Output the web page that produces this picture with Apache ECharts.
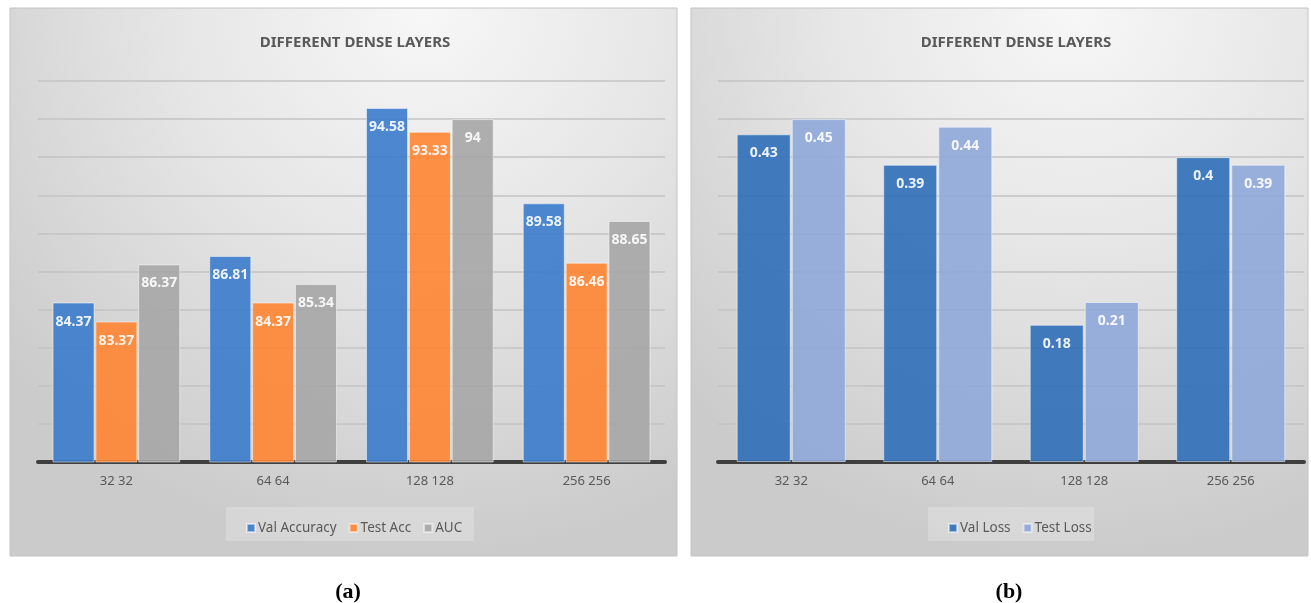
<!DOCTYPE html>
<html>
<head>
<meta charset="utf-8">
<script src="https://cdn.jsdelivr.net/npm/echarts@6/dist/echarts.min.js"></script>
<style>
  html, body { margin: 0; padding: 0; background: #ffffff; }
  #main { width: 1311px; height: 603px; }
</style>
</head>
<body>
<div id="main"></div>
<script>
// Categories shared by both panels
const categories = ['32 32', '64 64', '128 128', '256 256'];

// Panel (a): accuracy metrics
const valAccuracy = [84.37, 86.81, 94.58, 89.58];
const testAcc = [83.37, 84.37, 93.33, 86.46];
const auc = [86.37, 85.34, 94, 88.65];

// Panel (b): loss metrics
const valLoss = [0.43, 0.39, 0.18, 0.4];
const testLoss = [0.45, 0.44, 0.21, 0.39];

const chartTitle = 'DIFFERENT DENSE LAYERS';
const FONT = '"Noto Sans", "Liberation Sans", sans-serif';
const TEXT = '#595959';

const chart = echarts.init(document.getElementById('main'), null, { renderer: 'canvas' });

function panelBg(x, w) {
  return {
    type: 'rect',
    shape: { x: x, y: 8, width: w, height: 548 },
    style: {
      fill: {
        type: 'radial', x: 0.62, y: 0.0, r: 1.0,
        colorStops: [
          { offset: 0, color: '#f7f7f7' },
          { offset: 0.45, color: '#e6e6e6' },
          { offset: 1, color: '#cbcbcb' }
        ]
      },
      stroke: '#c4c4c4', lineWidth: 1
    },
    z: -10, silent: true
  };
}
function legendBox(x, w) {
  return {
    type: 'rect',
    shape: { x: x, y: 507, width: w, height: 34 },
    style: { fill: 'rgba(255,255,255,0.22)' },
    z: -9, silent: true
  };
}

function barLabel() {
  return {
    show: true, position: 'insideTop', distance: 12,
    color: '#ffffff', fontWeight: 'bold', fontSize: 14, fontFamily: FONT
  };
}
function bar(name, data, color, xi, width) {
  return {
    name: name, type: 'bar', data: data,
    xAxisIndex: xi, yAxisIndex: xi,
    barWidth: width, barGap: '2%',
    itemStyle: { color: color, opacity: 0.9, borderColor: 'rgba(255,255,255,0.55)', borderWidth: 1 },
    label: barLabel(),
    emphasis: { disabled: true }
  };
}

const xAxisBase = (gi) => ({
  type: 'category', gridIndex: gi, data: categories,
  axisLine: { show: true, lineStyle: { color: '#3f3f3f', width: 4 } },
  axisTick: { show: false },
  axisLabel: { color: TEXT, fontSize: 13, fontFamily: FONT, margin: 13 }
});
const splitLine = { show: true, lineStyle: { color: '#c3c3c3', width: 1.5 } };

const caption = (letter, x) => ({
  text: '{p|(}{b|' + letter + '}{p|)}', left: x, top: 576, textAlign: 'center',
  textStyle: { rich: {
    p: { fontFamily: '"Liberation Serif", serif', fontSize: 22, color: '#000' },
    b: { fontFamily: '"Liberation Serif", serif', fontSize: 22, fontWeight: 'bold', color: '#000' } } }
});

chart.setOption({
  animation: false,
  textStyle: { fontFamily: FONT },
  graphic: [panelBg(10, 667), panelBg(691, 617), legendBox(226, 248), legendBox(928, 166)],
  title: [
    { text: chartTitle, left: 350, top: 30, textAlign: 'center',
      textStyle: { color: TEXT, fontSize: 15, fontWeight: 'bold', fontFamily: FONT } },
    { text: chartTitle, left: 1011, top: 30, textAlign: 'center',
      textStyle: { color: TEXT, fontSize: 15, fontWeight: 'bold', fontFamily: FONT } },
    caption('a', 343),
    caption('b', 1004)
  ],
  legend: [
    { data: ['Val Accuracy', 'Test Acc', 'AUC'], left: 241, top: 516, itemWidth: 8, itemHeight: 8,
      itemGap: 12, icon: 'rect',
      textStyle: { color: TEXT, fontSize: 13.5, fontFamily: FONT, padding: [0, 0, 0, -2] },
      selectedMode: false },
    { data: ['Val Loss', 'Test Loss'], left: 943, top: 516, itemWidth: 8, itemHeight: 8,
      itemGap: 12, icon: 'rect',
      textStyle: { color: TEXT, fontSize: 13.5, fontFamily: FONT, padding: [0, 0, 0, -2] },
      selectedMode: false }
  ],
  grid: [
    { left: 38, right: 646, top: 81, bottom: 141 },
    { left: 718, right: 7, top: 81, bottom: 141 }
  ],
  xAxis: [xAxisBase(0), xAxisBase(1)],
  yAxis: [
    { type: 'value', gridIndex: 0, min: 76, max: 96, interval: 2,
      axisLabel: { show: false }, axisLine: { show: false }, axisTick: { show: false }, splitLine: splitLine },
    { type: 'value', gridIndex: 1, min: 0, max: 0.5, interval: 0.05,
      axisLabel: { show: false }, axisLine: { show: false }, axisTick: { show: false }, splitLine: splitLine }
  ],
  series: [
    bar('Val Accuracy', valAccuracy, '#3a7bcc', 0, 42),
    bar('Test Acc', testAcc, '#ff8533', 0, 42),
    bar('AUC', auc, '#a6a6a6', 0, 42),
    bar('Val Loss', valLoss, '#2f6fb8', 1, 54),
    bar('Test Loss', testLoss, '#8fa8da', 1, 54)
  ]
});
</script>
</body>
</html>
